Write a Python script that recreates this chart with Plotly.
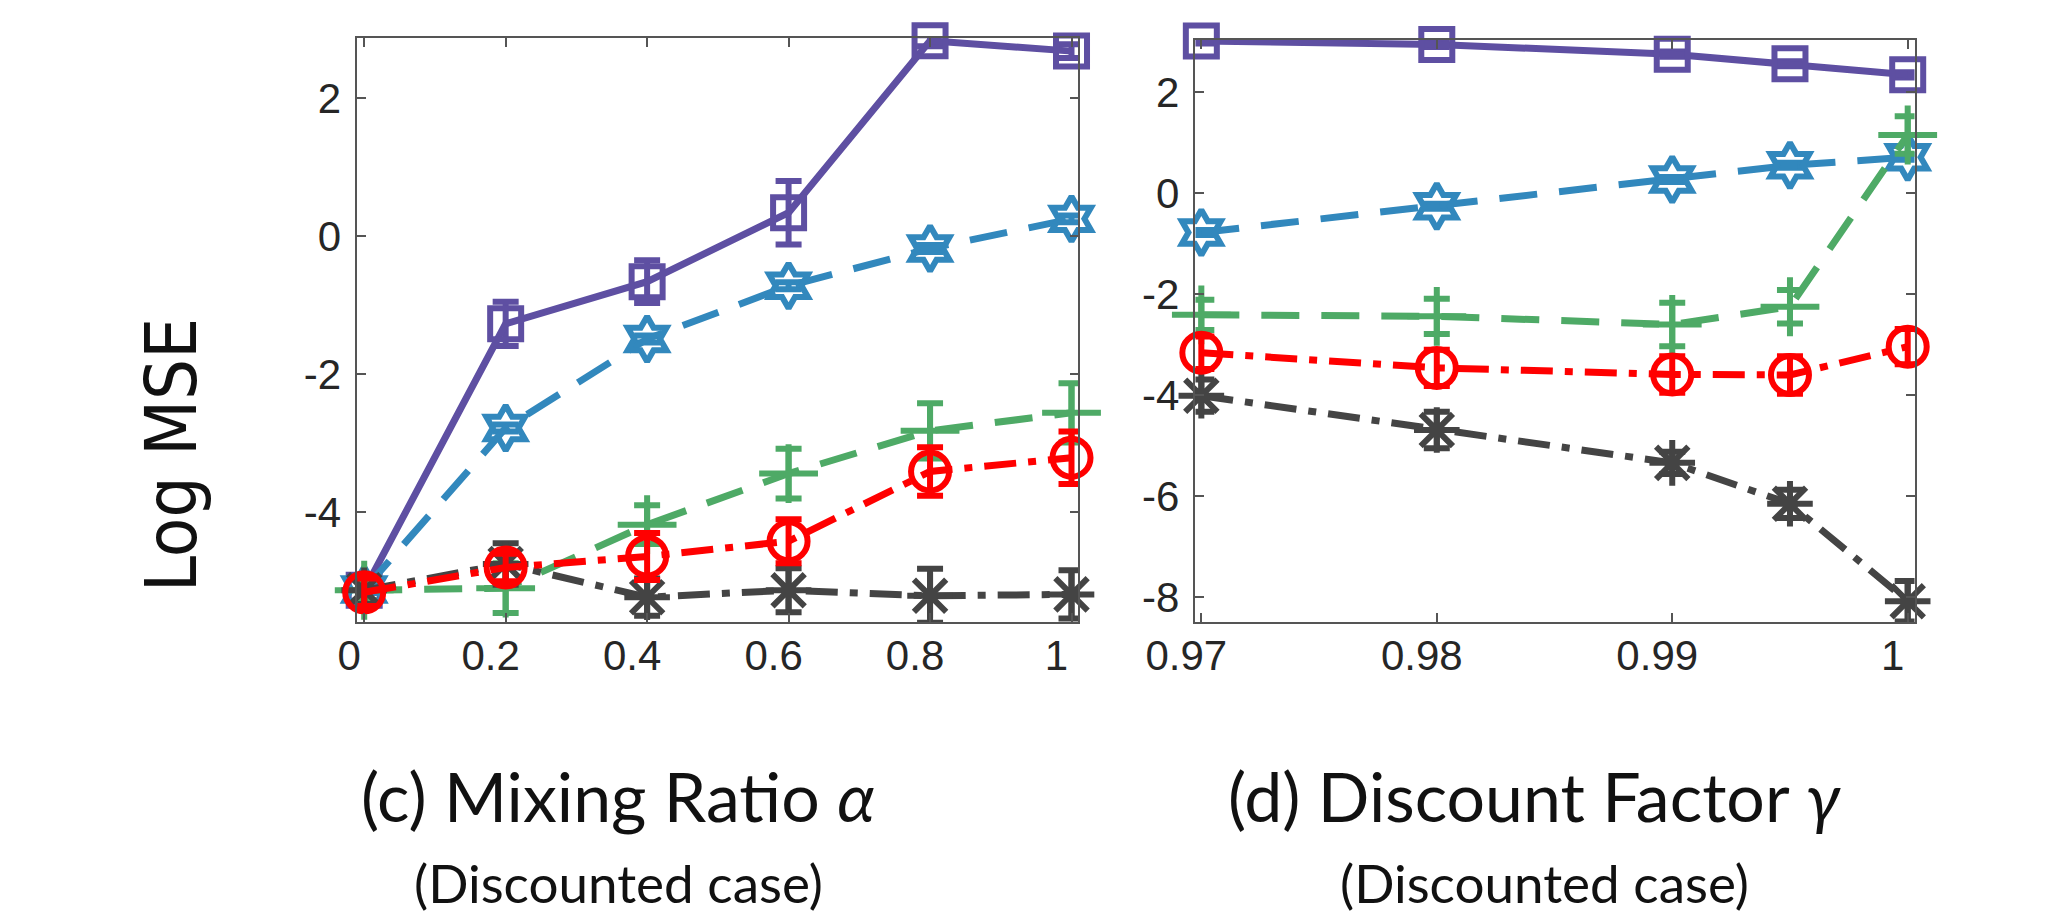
import plotly.graph_objects as go

# ---------------- data ----------------
alpha_x = [0.0, 0.2, 0.4, 0.6, 0.8, 1.0]
gamma_x = [0.97, 0.98, 0.99, 0.995, 1.0]

# left panel (Mixing ratio alpha)
a_purple = [-5.13, -1.27, -0.66, 0.34, 2.83, 2.68]
a_purple_err = [0.15, 0.32, 0.31, 0.46, 0.08, 0.1]
a_blue = [-5.12, -2.78, -1.49, -0.72, -0.18, 0.25]
a_blue_err = [0.05, 0.05, 0.05, 0.05, 0.05, 0.05]
a_green = [-5.13, -5.10, -4.18, -3.44, -2.82, -2.56]
a_green_err = [0.15, 0.36, 0.28, 0.36, 0.40, 0.43]
a_gray = [-5.13, -4.75, -5.23, -5.13, -5.21, -5.19]
a_gray_err = [0.2, 0.30, 0.27, 0.32, 0.39, 0.35]
a_red = [-5.16, -4.80, -4.64, -4.42, -3.41, -3.21]
a_red_err = [0.20, 0.20, 0.34, 0.32, 0.35, 0.38]

# right panel (Discount factor gamma)
g_purple = [3.01, 2.94, 2.75, 2.56, 2.34]
g_purple_err = [0.05, 0.05, 0.05, 0.05, 0.05]
g_blue = [-0.78, -0.26, 0.27, 0.55, 0.71]
g_blue_err = [0.05, 0.05, 0.05, 0.05, 0.05]
g_green = [-2.41, -2.44, -2.60, -2.25, 1.15]
g_green_err = [0.30, 0.35, 0.43, 0.33, 0.37]
g_gray = [-4.01, -4.69, -5.34, -6.15, -8.08]
g_gray_err = [0.32, 0.36, 0.22, 0.28, 0.40]
g_red = [-3.16, -3.46, -3.59, -3.60, -3.04]
g_red_err = [0.32, 0.36, 0.36, 0.37, 0.35]

alpha_ticks = [0, 0.2, 0.4, 0.6, 0.8, 1]
alpha_ticklabels = ["0", "0.2", "0.4", "0.6", "0.8", "1"]
gamma_ticks = [0.97, 0.98, 0.99, 1.0]
gamma_ticklabels = ["0.97", "0.98", "0.99", "1"]
left_yticks = [-4, -2, 0, 2]
right_yticks = [-8, -6, -4, -2, 0, 2]

# ---------------- styles ----------------
PURPLE = "#5E4FA2"
BLUE = "#3288BD"
GREEN = "#4EAA66"
GRAY = "#444444"
RED = "#FF0000"
LW = 7

styles = [
    # (color, dash, marker symbol, marker size)
    (PURPLE, "solid", "square-open", 31),
    (BLUE, "38px,22px", "hexagram-open", 34),
    (GREEN, "38px,22px", "cross-thin-open", 42),
    (GRAY, "32px,12px,8px,12px", "asterisk-open", 38),
    (RED, "32px,12px,8px,12px", "circle-open", 38),
]

fig = go.Figure()

def add_series(x, y, err, style, xa, ya):
    color, dash, sym, size = style
    fig.add_trace(go.Scatter(
        x=x, y=y, mode="lines+markers",
        line=dict(color=color, width=LW, dash=dash),
        marker=dict(symbol=sym, size=size, color=color,
                    line=dict(color=color, width=6)),
        error_y=dict(type="data", array=err, visible=True,
                     color=color, thickness=6, width=13),
        cliponaxis=False, showlegend=False,
        xaxis=xa, yaxis=ya,
    ))

left_series = [(a_purple, a_purple_err), (a_blue, a_blue_err),
               (a_green, a_green_err), (a_gray, a_gray_err), (a_red, a_red_err)]
right_series = [(g_purple, g_purple_err), (g_blue, g_blue_err),
                (g_green, g_green_err), (g_gray, g_gray_err), (g_red, g_red_err)]

for (y, e), st in zip(left_series, styles):
    add_series(alpha_x, y, e, st, "x", "y")
for (y, e), st in zip(right_series, styles):
    add_series(gamma_x, y, e, st, "x2", "y2")

W, H = 2056, 918
tickfont = dict(family="Liberation Sans, Arial, sans-serif", size=42, color="#262626")
axcommon = dict(showline=True, linecolor="#555555", linewidth=1.5, mirror="ticks",
                ticks="inside", ticklen=9, tickwidth=1.5, tickcolor="#555555",
                showgrid=False, zeroline=False, tickfont=tickfont)

fig.update_layout(
    width=W, height=H,
    margin=dict(l=0, r=0, t=0, b=0),
    paper_bgcolor="white", plot_bgcolor="white",
    xaxis=dict(domain=[315 / W, 1054 / W], range=[-0.0097, 1.0097],
               tickvals=alpha_ticks, ticktext=alpha_ticklabels,
               anchor="y", ticklabelshift=-15, ticklabelstandoff=-4, **axcommon),
    yaxis=dict(domain=[1 - 622 / H, 1 - 38 / H], range=[-5.59, 2.87],
               tickvals=left_yticks, ticktext=[str(v) for v in left_yticks],
               anchor="x", ticklabelstandoff=6, **axcommon),
    xaxis2=dict(domain=[1174 / W, 1911 / W], range=[0.96975, 1.00029],
                tickvals=gamma_ticks, ticktext=gamma_ticklabels,
                anchor="y2", ticklabelshift=-15, ticklabelstandoff=-4, **axcommon),
    yaxis2=dict(domain=[1 - 622 / H, 1 - 40 / H], range=[-8.49, 3.03],
                tickvals=right_yticks, ticktext=[str(v) for v in right_yticks],
                anchor="x2", ticklabelstandoff=6, **axcommon),
)

textfont = "Lato, Open Sans, sans-serif"
narrowfont = "Liberation Sans Narrow, DejaVu Sans Condensed, Lato, sans-serif"
annos = [
    dict(text="Log MSE", x=124 / W, y=1 - 455 / H, textangle=-90, size=72, fam=narrowfont),
    dict(text="(c) Mixing Ratio <i>α</i>", x=582 / W, y=1 - 795 / H, textangle=0, size=68, fam=textfont),
    dict(text="(Discounted case)", x=583 / W, y=1 - 882 / H, textangle=0, size=53, fam=textfont),
    dict(text="(d) Discount Factor <i>γ</i>", x=1521 / W, y=1 - 795 / H, textangle=0, size=68, fam=textfont),
    dict(text="(Discounted case)", x=1532 / W, y=1 - 882 / H, textangle=0, size=53, fam=textfont),
]
for a in annos:
    fig.add_annotation(text=a["text"], x=a["x"], y=a["y"], xref="paper", yref="paper",
                       xanchor="center", yanchor="middle", showarrow=False,
                       textangle=a["textangle"],
                       font=dict(family=a["fam"], size=a["size"], color="#111111"))

fig.write_html("out.html")
